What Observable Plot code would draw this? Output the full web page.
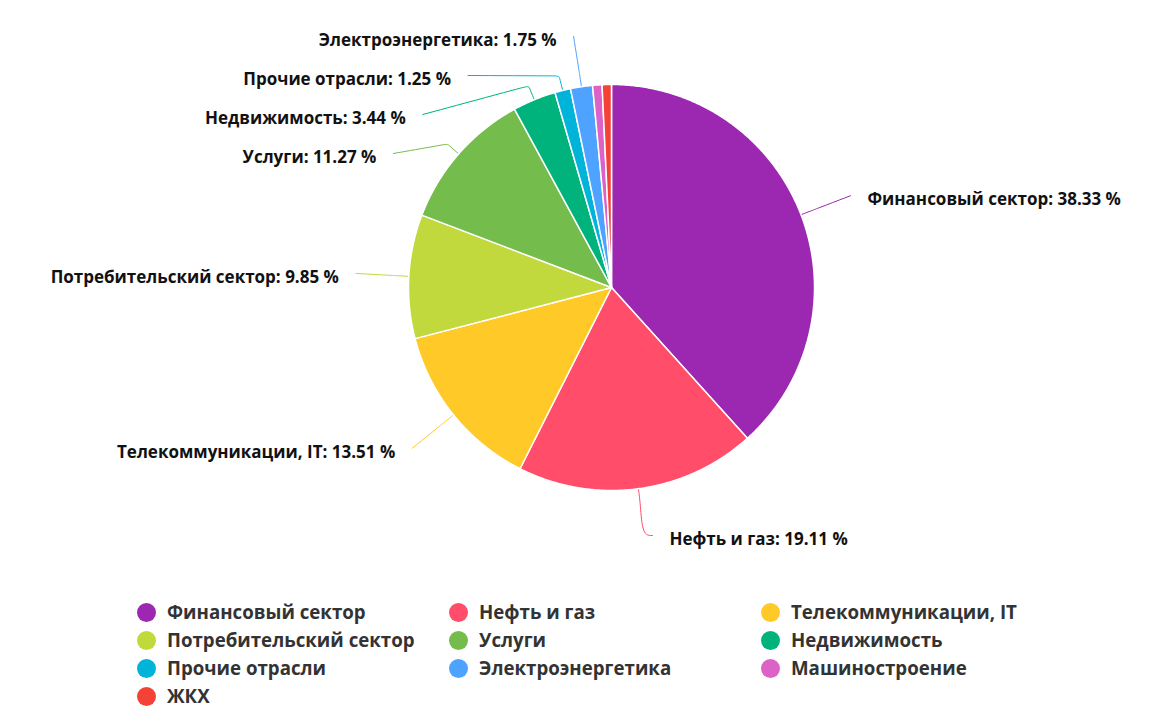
<!DOCTYPE html>
<html>
<head>
<meta charset="utf-8">
<script src="https://cdn.jsdelivr.net/npm/d3@7"></script>
<script src="https://cdn.jsdelivr.net/npm/@observablehq/plot@0.6"></script>
<style>
  body { margin: 0; background: #fff; font-family: "Open Sans", sans-serif; }
  #chart svg { display: block; }
  #legend { position: relative; width: 1176px; height: 117px; }
  .item { position: absolute; height: 28px; line-height: 28px; font-size: 18.7px; font-weight: 700; color: #333; white-space: nowrap; }
  .dot { position: absolute; left: 0; top: 4.5px; width: 19px; height: 19px; border-radius: 50%; }
  .lbl { position: absolute; left: 30px; top: 0; }
</style>
</head>
<body>
<div id="chart"></div>
<div id="legend"></div>
<script>
const categories = ["Финансовый сектор", "Нефть и газ", "Телекоммуникации, IT", "Потребительский сектор", "Услуги", "Недвижимость", "Прочие отрасли", "Электроэнергетика", "Машиностроение", "ЖКХ"];
const values = [38.33, 19.11, 13.51, 9.85, 11.27, 3.44, 1.25, 1.75, 0.75, 0.74];
const colors = ["#9c27b0", "#ff4d6a", "#ffca28", "#c1d93c", "#74bc4b", "#00b37d", "#00b3d9", "#4da3ff", "#dd62c8", "#f44336"];

const W = 1176, H = 598, cx = 611, cy = 287, R = 203;
const RL = 256, topY = 36, botY = 535, gap = 39, textPad = 17;

const data = categories.map((key, i) => ({key, value: values[i]}));
const arcs = d3.pie().sort(null).value(d => d.value)(data);
const px = (a, r) => cx + r * Math.sin(a);
const py = (a, r) => cy - r * Math.cos(a);

// slice polygons
const slicePts = [];
for (const a of arcs) {
  const key = a.data.key;
  slicePts.push({key, x: cx, y: cy});
  const n = Math.max(2, Math.ceil((a.endAngle - a.startAngle) / 0.008));
  for (let k = 0; k <= n; k++) {
    const t = a.startAngle + (a.endAngle - a.startAngle) * k / n;
    slicePts.push({key, x: px(t, R), y: py(t, R)});
  }
  slicePts.push({key, x: cx, y: cy});
}

// labels with distribution
const labs = arcs.filter(a => a.data.value >= 1).map(a => {
  const mid = (a.startAngle + a.endAngle) / 2;
  return {key: a.data.key, value: a.data.value, mid, right: Math.sin(mid) >= 0, ideal: py(mid, RL)};
});
for (const side of [true, false]) {
  const s = labs.filter(l => l.right === side).sort((a, b) => a.ideal - b.ideal);
  let prev = -Infinity;
  for (const l of s) {
    l.y = Math.min(botY, Math.max(l.ideal, topY, prev + gap));
    prev = l.y;
  }
}
for (const l of labs) {
  const displaced = Math.abs(l.y - l.ideal) > 8;
  let dx = displaced ? Math.sqrt(Math.max(0, RL * RL - (l.y - cy) ** 2)) : Math.abs(px(l.mid, RL) - cx);
  if (l.y >= botY) dx += 7;
  l.x = cx + (l.right ? 1 : -1) * dx;
  l.tx = l.x + (l.right ? textPad : -textPad);
  l.text = `${l.key}: ${l.value.toFixed(2)} %`;
}

const connPts = [];
for (const l of labs) {
  const e = {x: px(l.mid, R), y: py(l.mid, R)};
  const b = {x: px(l.mid, R + 15), y: py(l.mid, R + 15)};
  const end = {x: l.x, y: l.y};
  const pts = l.y >= botY ? [e, b, {x: b.x + 2, y: end.y}, end] : [e, b, b, end];
  for (const p of pts) connPts.push({key: l.key, x: p.x, y: p.y});
}

const chart = Plot.plot({
  width: W, height: H, margin: 0,
  x: {domain: [0, W], range: [0, W], axis: null},
  y: {domain: [0, H], range: [0, H], axis: null},
  color: {domain: categories, range: colors},
  style: {fontFamily: "'Open Sans', sans-serif", background: "#fff"},
  marks: [
    Plot.line(connPts, {x: "x", y: "y", z: "key", stroke: "key", strokeWidth: 1, curve: "basis"}),
    Plot.line(slicePts, {x: "x", y: "y", z: "key", fill: "key", stroke: "#fff", strokeWidth: 1.5, strokeLinejoin: "round"}),
    Plot.text(labs.filter(l => l.right), {x: "tx", y: "y", text: "text", textAnchor: "start", dy: 4, fontSize: 17, fontWeight: "bold", fill: "#111"}),
    Plot.text(labs.filter(l => !l.right), {x: "tx", y: "y", text: "text", textAnchor: "end", dy: 4, fontSize: 17, fontWeight: "bold", fill: "#111"})
  ]
});
document.getElementById("chart").appendChild(chart);

const legend = document.getElementById("legend");
categories.forEach((c, i) => {
  const col = i % 3, row = Math.floor(i / 3);
  const item = document.createElement("div");
  item.className = "item";
  item.style.left = (137 + col * 312) + "px";
  item.style.top = (row * 28) + "px";
  const dot = document.createElement("span");
  dot.className = "dot";
  dot.style.background = chart.scale("color").apply(c);
  const lbl = document.createElement("span");
  lbl.className = "lbl";
  lbl.textContent = c;
  item.appendChild(dot); item.appendChild(lbl);
  legend.appendChild(item);
});
</script>
</body>
</html>
